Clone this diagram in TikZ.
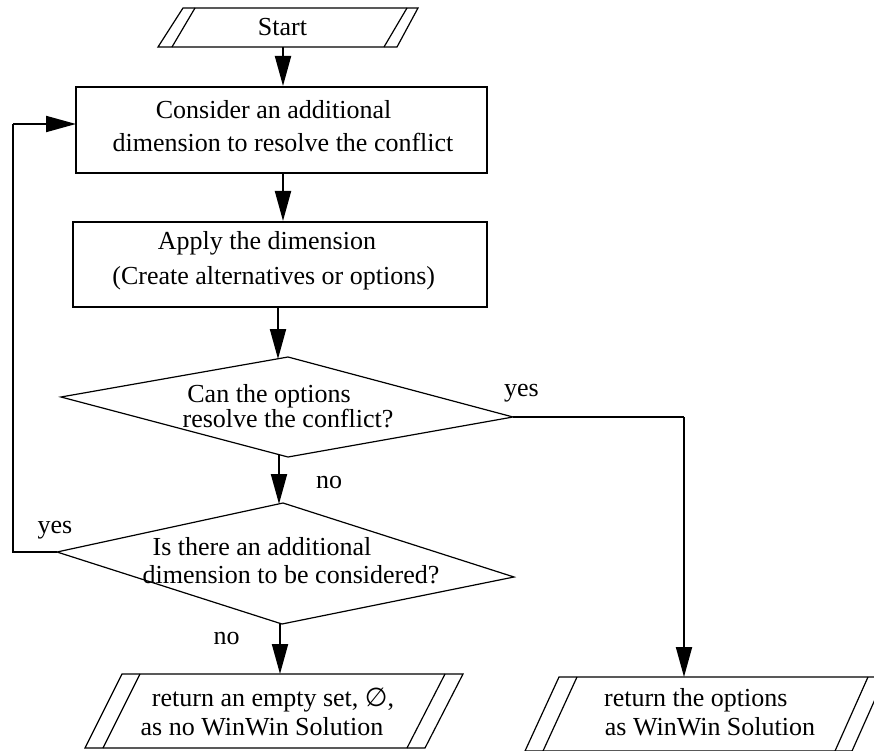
\documentclass[tikz,border=0pt]{standalone}
\usepackage{fontspec}
\setmainfont{Liberation Serif}
\newfontfamily\symfont{DejaVu Sans}
\usetikzlibrary{arrows.meta}
\begin{document}
\begin{tikzpicture}[x=1pt,y=-1pt,
  line/.style={font=\fontsize{26}{26}\selectfont, inner sep=0pt, anchor=base},
  boxline/.style={draw, line width=2pt, inner sep=0pt},
  thinline/.style={line width=1.2pt, line join=miter},
  flow/.style={line width=2pt, -{Triangle[length=30pt,width=16pt]}},
  wire/.style={line width=2pt}]
\useasboundingbox (0,0) rectangle (874,751);

% Start terminal
\draw[thinline] (183,8) -- (418,8) -- (397,47) -- (158,47) -- cycle;
\draw[thinline] (195,8) -- (172,47);
\draw[thinline] (407,8) -- (384,47);
\node[line] (tstart) at (282.5,36) {Start};
\coordinate (startout) at (283,47);

% process boxes
\node[boxline, minimum width=411pt, minimum height=86pt] (box1) at (281.5,130) {};
\node[line] (t1a) at (273.6,119) {Consider an additional};
\node[line] (t1b) at (283,152) {dimension to resolve the conflict};

\node[boxline, minimum width=414pt, minimum height=85pt] (box2) at (280,264.5) {};
\node[line] (t2a) at (267,249) {Apply the dimension};
\node[line] (t2b) at (273.7,284) {(Create alternatives or options)};

% first decision
\coordinate (d1t) at (288,357);
\coordinate (d1r) at (513,417);
\coordinate (d1b) at (288,457);
\coordinate (d1l) at (61,397);
\draw[thinline] (d1t) -- (d1r) -- (d1b) -- (d1l) -- cycle;
\node[line] (t3a) at (269,402) {Can the options};
\node[line] (t3b) at (288,427) {resolve the conflict?};

% second decision
\coordinate (d2t) at (283,503);
\coordinate (d2r) at (514,577);
\coordinate (d2b) at (282,624);
\coordinate (d2l) at (57,552);
\draw[thinline] (d2t) -- (d2r) -- (d2b) -- (d2l) -- cycle;
\node[line] (t4a) at (262,555) {Is there an additional};
\node[line] (t4b) at (291,583) {dimension to be considered?};

% output terminals
\draw[thinline] (122,674) -- (463,674) -- (425,748) -- (85,748) -- cycle;
\draw[thinline] (140,674) -- (103,748);
\draw[thinline] (445,674) -- (407,748);
\node[line] (t5a) at (273,706) {return an empty set, {\symfont ∅},};
\node[line] (t5b) at (262,735) {as no WinWin Solution};

\draw[thinline] (559,677) -- (885,677) -- (852,751) -- (525,751) -- cycle;
\draw[thinline] (577,677) -- (543,751);
\draw[thinline] (868,677) -- (835,751);
\node[line] (t6a) at (695.8,706) {return the options};
\node[line] (t6b) at (710,735) {as WinWin Solution};

% connector end points
\coordinate (d1in) at (278,359);
\coordinate (d1out) at (279,454.6);
\coordinate (d2in) at (279,504);
\coordinate (d2out) at (280,623.4);
\coordinate (o1in) at (280,674);
\coordinate (yesturn) at (684,417);
\coordinate (o2in) at (684,677);
\coordinate (loopa) at (13,552);
\coordinate (loopb) at (13,124);
\coordinate (b1loop) at (76,124);

% connectors
\draw[flow] (startout) -- (startout |- box1.north);
\draw[flow] (box1.south -| startout) -- (box2.north -| startout);
\draw[flow] (box2.south -| d1in) -- (d1in);
\draw[flow] (d1out) -- (d2in);
\draw[flow] (d2out) -- (o1in);
\draw[wire] (d1r) -- (yesturn);
\draw[flow] (yesturn) -- (o2in);
\draw[wire] (d2l) -- (loopa) -- (loopb);
\draw[flow] (loopb) -- (b1loop);

% branch labels
\node[line] (yes1) at (521.5,396) {yes};
\node[line] (no1) at (329,488) {no};
\node[line] (yes2) at (55,533) {yes};
\node[line] (no2) at (226.7,644) {no};
\end{tikzpicture}
\end{document}
